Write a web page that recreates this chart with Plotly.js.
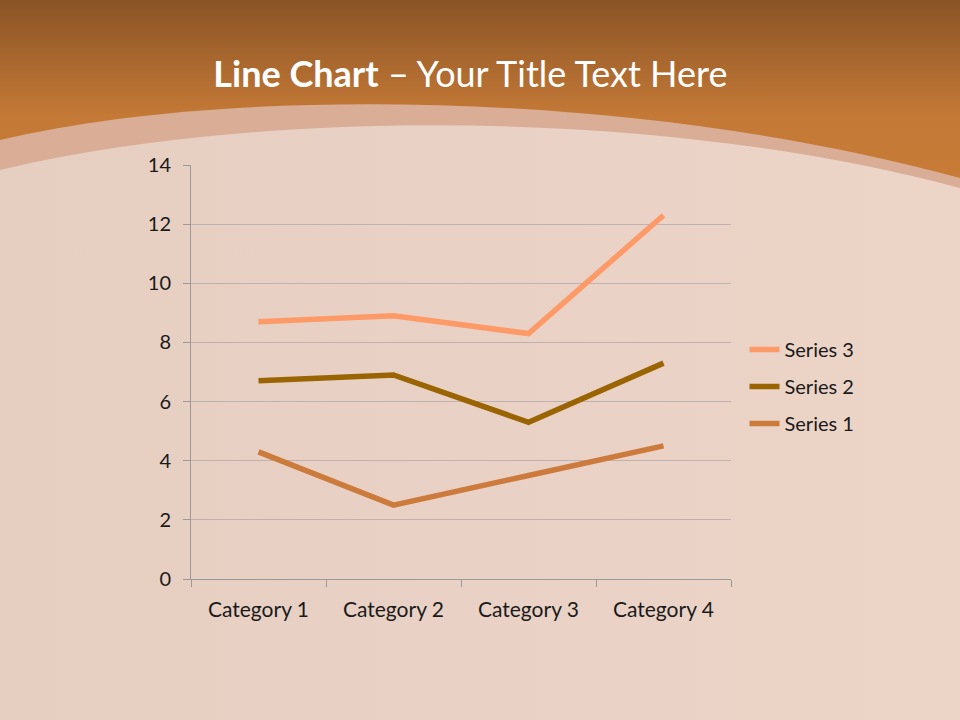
<!DOCTYPE html>
<html>
<head>
<meta charset="utf-8">
<script src="https://cdn.plot.ly/plotly-3.0.1.min.js"></script>
<style>
  html, body { margin: 0; padding: 0; }
  body { width: 960px; height: 720px; position: relative; overflow: hidden; }
  #bg { position: absolute; left: 0; top: 0; }
  #chart { position: absolute; left: 0; top: 0; width: 960px; height: 720px; }
</style>
</head>
<body>
<svg id="bg" width="960" height="720" xmlns="http://www.w3.org/2000/svg">
  <defs>
    <linearGradient id="wood" x1="0" y1="0" x2="1" y2="0">
      <stop offset="0" stop-color="#E6CEC1"/>
      <stop offset="0.5" stop-color="#E9D2C5"/>
      <stop offset="1" stop-color="#ECD4C7"/>
    </linearGradient>
    <linearGradient id="top" x1="0" y1="0" x2="0" y2="1">
      <stop offset="0" stop-color="#8A5426"/>
      <stop offset="0.65" stop-color="#C47936"/>
      <stop offset="1" stop-color="#C77B37"/>
    </linearGradient>
  </defs>
  <rect width="960" height="720" fill="url(#wood)"/>
  <path d="M0,0 H960 V188 C650,105 250,110 0,170 Z" fill="#DAAD97"/>
  <path d="M0,0 H960 V178 C640,90 230,85 0,140 Z" fill="url(#top)"/>
</svg>
<div id="chart"></div>
<script>
const categories = ['Category 1', 'Category 2', 'Category 3', 'Category 4'];
const series1 = [4.3, 2.5, 3.5, 4.5];
const series2 = [2.4, 4.4, 1.8, 2.8];
const series3 = [2, 2, 3, 5];
const seriesNames = ['Series 1', 'Series 2', 'Series 3'];
const seriesColors = ['#CC7B3D', '#9A6403', '#FD9A68'];

const font = 'Lato, "Open Sans", sans-serif';

const traces = [series1, series2, series3].map((vals, i) => ({
  x: categories,
  y: vals,
  name: seriesNames[i],
  legendgroup: 'g' + i,
  legendrank: 3 - i,
  type: 'scatter',
  mode: 'lines',
  stackgroup: 'one',
  fill: 'none',
  line: { color: seriesColors[i], width: 5.5 }
}));

Plotly.newPlot('chart', traces, {
  width: 960,
  height: 720,
  paper_bgcolor: 'rgba(0,0,0,0)',
  plot_bgcolor: 'rgba(0,0,0,0)',
  margin: { l: 191, r: 229, t: 165, b: 141 },
  font: { family: font, color: '#1a1a1a', size: 20 },
  title: {
    text: '<b>Line Chart</b> – Your Title Text Here',
    font: { family: font, color: '#ffffff', size: 36 },
    x: 0.49, xref: 'container', xanchor: 'center',
    y: 0.896, yref: 'container', yanchor: 'middle'
  },
  xaxis: {
    type: 'category',
    range: [-0.5, 3.5],
    showline: true, linecolor: '#9a9a9a', linewidth: 1,
    ticks: 'outside', tickson: 'boundaries', ticklen: 7, tickcolor: '#9a9a9a',
    ticklabelstandoff: 12,
    showgrid: false,
    tickfont: { size: 21 },
    fixedrange: true
  },
  yaxis: {
    range: [0, 14],
    dtick: 2,
    showline: true, linecolor: '#9a9a9a', linewidth: 1,
    ticks: 'outside', ticklen: 7, tickcolor: '#9a9a9a',
    ticklabelstandoff: 8,
    gridcolor: '#BDB2AD', gridwidth: 1,
    zeroline: false,
    tickfont: { size: 20 },
    fixedrange: true
  },
  showlegend: true,
  legend: {
    traceorder: 'grouped',
    tracegroupgap: 8,
    x: 1.025, xanchor: 'left',
    y: 0.465, yanchor: 'middle',
    bgcolor: 'rgba(0,0,0,0)',
    font: { size: 20 },
    itemwidth: 30
  }
}, { displayModeBar: false, staticPlot: true });
</script>
</body>
</html>
